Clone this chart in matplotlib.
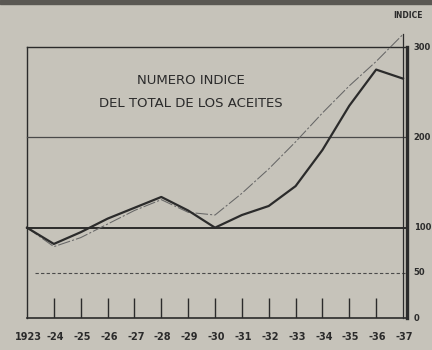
import matplotlib.pyplot as plt
from matplotlib.patches import Rectangle

# años y números índice (1923 = 100)
years = list(range(1923, 1938))
year_labels = ['1923', '-24', '-25', '-26', '-27', '-28', '-29', '-30',
               '-31', '-32', '-33', '-34', '-35', '-36', '-37']
total = [100, 82, 95, 110, 122, 134, 119, 100, 114, 124, 146, 186, 235, 275, 265]
second = [100, 79, 89, 104, 119, 131, 117, 114, 138, 165, 195, 227, 257, 284, 314]
right_ticks = [300, 200, 100, 50, 0]

bg = '#c6c3ba'
ink = '#2b2b2b'

fig = plt.figure(figsize=(4.32, 3.5), dpi=100, facecolor=bg)
ax = fig.add_axes([0.0625, 0.0914, 0.8704, 0.7743], facecolor=bg)
ax.set_xlim(1923, 1937)
ax.set_ylim(0, 300)
for s in ax.spines.values():
    s.set_visible(False)
ax.set_xticks([])
ax.set_yticks([])

# marco y líneas de referencia
xr = 1937.15
ax.plot([1923, xr], [300, 300], color=ink, lw=1.0, clip_on=False)
ax.plot([1923, xr], [0, 0], color=ink, lw=1.2, clip_on=False)
ax.plot([1923, 1923], [0, 300], color=ink, lw=1.0, clip_on=False)
ax.plot([1923, xr], [200, 200], color='#4a4a4a', lw=0.9, clip_on=False)
ax.plot([1923, xr], [100, 100], color=ink, lw=1.4, clip_on=False)
ax.plot([1923.3, xr], [50, 50], color='#4a4a4a', lw=0.8, ls=(0, (3, 2)), clip_on=False)
ax.plot([xr, xr], [0, 300], color=ink, lw=2.4, clip_on=False)
ax.plot([1937, 1937], [0, second[-1]], color=ink, lw=0.9, clip_on=False)

# marcas de los años
ax.vlines(years[1:-1], 0, 22, color=ink, lw=1.0)

# series
ax.plot(years, second, color='#666666', lw=0.75, ls=(0, (12, 2, 2, 2)), clip_on=False)
ax.plot(years, total, color=ink, lw=1.6, clip_on=False)

# textos
ax.text(1929.1, 263, 'NUMERO INDICE', ha='center', va='center',
        fontsize=9.5, color=ink)
ax.text(1929.1, 237, 'DEL TOTAL DE LOS ACEITES', ha='center', va='center',
        fontsize=9.5, color=ink)
for y, lab in zip(years, year_labels):
    ax.text(y + 0.05, -21, lab, ha='center', va='center', fontsize=7,
            fontweight='bold', color=ink, clip_on=False)
for v in right_ticks:
    ax.text(1937.4, v, str(v), ha='left', va='center', fontsize=6,
            fontweight='bold', color=ink, clip_on=False)
ax.text(1937.2, 335, 'INDICE', ha='center', va='center', fontsize=5.5,
        fontweight='bold', color=ink, clip_on=False)

# borde oscuro superior de la hoja
fig.patches.append(Rectangle((0, 0.988), 1, 0.012, transform=fig.transFigure,
                             color='#5a5853', zorder=0))

fig.savefig('out.png', dpi=100, facecolor=bg)
